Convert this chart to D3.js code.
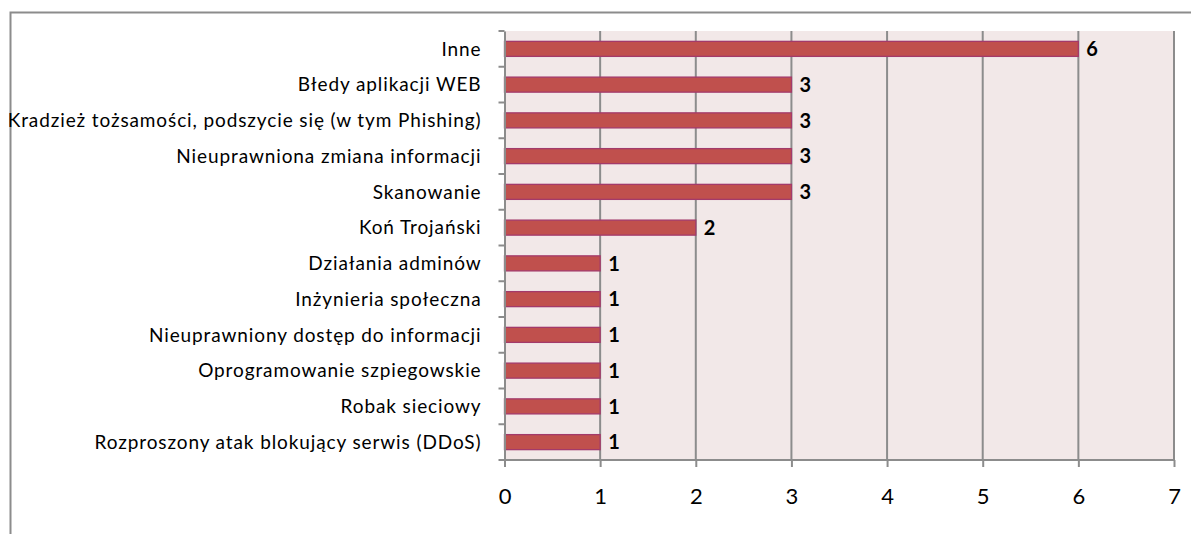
<!DOCTYPE html>
<html><head><meta charset="utf-8">
<script src="https://cdn.jsdelivr.net/npm/d3@7"></script>
<style>body{margin:0;background:#fff}svg{display:block}</style>
</head><body>
<svg id="c" width="1191" height="534"></svg>
<script>
const categories = ["Inne","Błedy aplikacji WEB","Kradzież tożsamości, podszycie się (w tym Phishing)","Nieuprawniona zmiana informacji","Skanowanie","Koń Trojański","Działania adminów","Inżynieria społeczna","Nieuprawniony dostęp do informacji","Oprogramowanie szpiegowskie","Robak sieciowy","Rozproszony atak blokujący serwis (DDoS)"];
const values = [6,3,3,3,3,2,1,1,1,1,1,1];
const xTicks = [0,1,2,3,4,5,6,7];

const svg = d3.select("#c");
const m = {left:504.5, right:1174, top:31, bottom:460};
const font = "Lato, 'Open Sans', sans-serif";

// outer frame
svg.append("rect").attr("x",10.5).attr("y",12.5).attr("width",1300).attr("height",700)
  .attr("fill","#fff").attr("stroke","#8c8c8c").attr("stroke-width",2);

const x = d3.scaleLinear().domain([0,7]).range([m.left,m.right]);
const y = d3.scaleBand().domain(categories).range([m.top,m.bottom]).paddingInner(0.58).paddingOuter(0.29);
const yb = d3.scaleBand().domain(categories).range([m.top,m.bottom]);

// plot background
svg.append("rect").attr("x",m.left).attr("y",m.top).attr("width",m.right-m.left).attr("height",m.bottom-m.top).attr("fill","#f2e8e8");

// gridlines
svg.append("g").selectAll("line").data(xTicks.slice(1)).join("line")
  .attr("x1",d=>x(d)).attr("x2",d=>x(d)).attr("y1",m.top).attr("y2",m.bottom)
  .attr("stroke","#8c8c8c").attr("stroke-width",2);

// bars
svg.append("g").selectAll("rect").data(values).join("rect")
  .attr("x",x(0)).attr("y",(d,i)=>y(categories[i]))
  .attr("width",d=>x(d)-x(0)).attr("height",y.bandwidth())
  .attr("fill","#c0504d").attr("stroke","#a33a6a").attr("stroke-width",1.3);

// value labels
svg.append("g").selectAll("text").data(values).join("text")
  .attr("x",d=>x(d)+8).attr("y",(d,i)=>y(categories[i])+y.bandwidth()/2)
  .attr("dy","0.36em").attr("font-family",font).attr("font-weight","bold").attr("font-size",20)
  .attr("fill","#000").text(d=>d);

// y axis
const yAxis = d3.axisLeft(yb).tickSize(0).tickFormat("");
const ya = svg.append("g").attr("transform",`translate(${m.left},0)`).call(yAxis);
ya.select(".domain").attr("stroke","#8c8c8c").attr("stroke-width",2);
const bounds = categories.map(c=>yb(c)).concat([m.bottom]);
svg.append("g").selectAll("line").data(bounds).join("line")
  .attr("x1",m.left-6).attr("x2",m.left).attr("y1",d=>d).attr("y2",d=>d)
  .attr("stroke","#8c8c8c").attr("stroke-width",2);
// category labels
const labels = svg.append("g").selectAll("text").data(categories).join("text")
  .attr("x",m.left-23).attr("y",d=>yb(d)+yb.bandwidth()/2).attr("dy","0.35em")
  .attr("text-anchor","end").attr("font-family",font).attr("font-size",19).attr("fill","#000").text(d=>d);
const longest = labels.filter((d,i)=>i===2).node();
const w = longest.getComputedTextLength();
const ls = Math.max(0,(474 - w)/categories[2].length);
labels.attr("letter-spacing", ls.toFixed(2)+"px");

// x axis
const xa = svg.append("g").attr("transform",`translate(0,${m.bottom})`)
  .call(d3.axisBottom(x).tickValues(xTicks).tickSize(7).tickPadding(21).tickFormat(d3.format("d")));
xa.select(".domain").attr("stroke","#8c8c8c").attr("stroke-width",2).attr("d",`M${m.left},0H${m.right}`);
xa.selectAll(".tick line").attr("stroke","#8c8c8c").attr("stroke-width",2);
xa.selectAll(".tick text").attr("font-family",font).attr("font-size",22).attr("fill","#000");
</script>
</body></html>
